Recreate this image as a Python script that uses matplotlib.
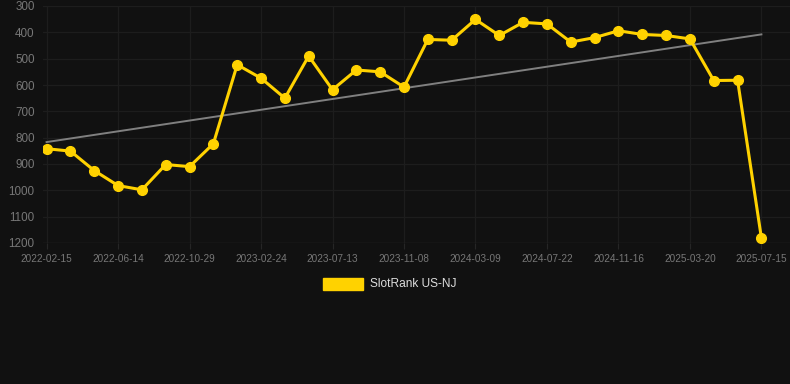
import numpy as np
import matplotlib.pyplot as plt
from matplotlib.patches import Rectangle

# Datos (rank, eje invertido)
rank = [842, 851, 925, 982, 998, 902, 910, 823, 523, 574, 650, 490, 618, 543, 550, 608,
        427, 430, 351, 412, 362, 368, 437, 420, 394, 408, 412, 425, 583, 582, 1181]
tick_labels = ['2022-02-15', '2022-06-14', '2022-10-29', '2023-02-24', '2023-07-13', '2023-11-08',
               '2024-03-09', '2024-07-22', '2024-11-16', '2025-03-20', '2025-07-15']
y_ticks = [300, 400, 500, 600, 700, 800, 900, 1000, 1100, 1200]
serie = 'SlotRank US-NJ'

fondo = '#111111'
amarillo = '#FFD200'
plt.rcParams['font.family'] = ['Liberation Sans', 'DejaVu Sans']

fig = plt.figure(figsize=(7.9, 3.84), dpi=100, facecolor=fondo)
ax = fig.add_axes([43 / 790, 1 - 243 / 384, 1 - 43 / 790, (243 - 6) / 384])
ax.set_facecolor(fondo)

x = np.arange(len(rank))

# Linea de tendencia (ajuste lineal)
coef = np.polyfit(x, rank, 1)
ax.plot([x[0], x[-1]], np.polyval(coef, [x[0], x[-1]]), color='#808080', lw=1.4, zorder=2)

ax.plot(x, rank, color=amarillo, lw=2.2, marker='o', markersize=7, zorder=3)

ax.set_ylim(1200, 300)
ax.set_xlim(-0.15, len(rank) - 1 + 1.2)
ax.set_yticks(y_ticks)
ax.set_xticks(x[::3])
ax.set_xticklabels(tick_labels)
ax.tick_params(axis='y', colors='#777777', labelsize=8.4, length=0, pad=6)
ax.tick_params(axis='x', colors='#777777', labelsize=7.2, length=4, pad=4, color='#262626')
ax.grid(True, color='#1d1d1d', lw=0.9)
for s in ax.spines.values():
    s.set_visible(False)
ax.axhline(1200, color='#2c2c2c', lw=0.9)

# Leyenda
fig.patches.append(Rectangle((323 / 790, 1 - 290 / 384), 40 / 790, 12 / 384,
                             transform=fig.transFigure, color=amarillo))
fig.text(370 / 790, 1 - 284 / 384, serie, color='#dddddd', fontsize=8.6, va='center')

fig.savefig('out.png', dpi=100, facecolor=fondo)
